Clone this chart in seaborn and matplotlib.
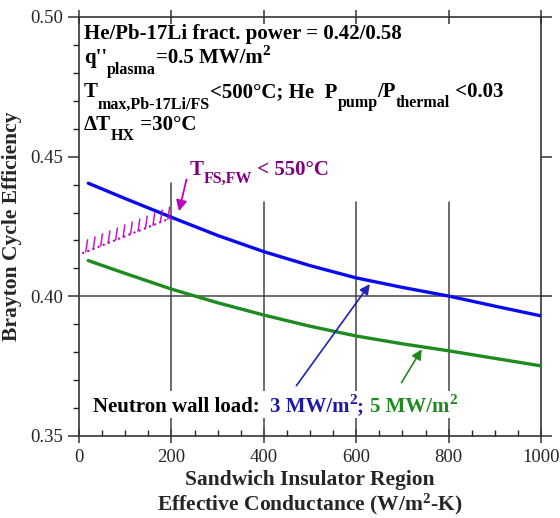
import matplotlib
matplotlib.use("Agg")
import matplotlib.pyplot as plt
import matplotlib.patheffects as pe
from matplotlib.patches import Rectangle
from matplotlib.ticker import MultipleLocator
import seaborn as sns
import pandas as pd

# valores
conductance = [20, 100, 200, 300, 400, 500, 600, 700, 800, 900, 1000]
eff_3mw = [0.4405, 0.4350, 0.4283, 0.4218, 0.4160, 0.4110, 0.4066, 0.4032, 0.4001, 0.3965, 0.3930]
eff_5mw = [0.4128, 0.4082, 0.4026, 0.3977, 0.3933, 0.3893, 0.3858, 0.3830, 0.3805, 0.3778, 0.3751]
limit_x = [7, 200]
limit_y = [0.4154, 0.4281]
xticks = [0, 200, 400, 600, 800, 1000]
yticks = [0.35, 0.40, 0.45, 0.50]

W, H = 560, 518
BLUE, GREEN, PURPLE = "#0a0af0", "#1f8a1f", "#800080"

sns.set_style("ticks")
plt.rcParams['font.family'] = ['Liberation Serif', 'DejaVu Serif']
plt.rcParams['mathtext.fontset'] = 'custom'
plt.rcParams['mathtext.rm'] = 'Liberation Serif:bold'
plt.rcParams['mathtext.it'] = 'Liberation Serif:bold'
plt.rcParams['mathtext.bf'] = 'Liberation Serif:bold'

df = pd.DataFrame({"k": conductance + conductance,
                   "eff": eff_3mw + eff_5mw,
                   "load": ["3"] * len(conductance) + ["5"] * len(conductance)})

fig = plt.figure(figsize=(W / 100, H / 100), dpi=100)
ax = fig.add_axes([79 / W, 1 - 436 / H, 462 / W, 419 / H])
renderer = fig.canvas.get_renderer()


def rich_text(x, y, pieces):
    # pieces: (texto, tamaño, desplazamiento vertical en px, color); x, y en px desde arriba
    for s, fs, dy, col in pieces:
        t = fig.text(x / W, 1 - (y + dy) / H, s, fontsize=fs, fontweight="bold", color=col,
                     va="baseline", zorder=6)
        x += t.get_window_extent(renderer).width


# lineas de referencia
ax.plot([200, 200], [0.35, 0.4406], color="#444444", lw=1.1, zorder=1)
for xv in [400, 600, 800]:
    ax.plot([xv, xv], [0.35, 0.4339], color="#444444", lw=1.1, zorder=1)
ax.axhline(0.40, color="#444444", lw=1.1, zorder=1)

sns.lineplot(data=df, x="k", y="eff", hue="load", palette={"3": BLUE, "5": GREEN},
             lw=2.4, legend=False, ax=ax, zorder=3)

# limite de temperatura (linea punteada con marcas)
ax.plot(limit_x, limit_y, color="#c000c0", lw=1.5, ls=":", zorder=4)
ax.plot(limit_x, limit_y, color="#c000c0", lw=1.1, alpha=0.9, zorder=4,
        path_effects=[pe.TickedStroke(angle=60, spacing=5.5, length=1.6)])

k = "black"
rich_text(84, 39, [("He/Pb-17Li fract. power = 0.42/0.58", 15, 0, k)])
rich_text(84, 63, [("q''", 15, 0, k), ("plasma", 11.5, 11, k), ("=0.5 MW/m", 15, 0, k), ("2", 11, -8, k)])
rich_text(84, 97, [("T", 15, 0, k), ("max,Pb-17Li/FS", 11.5, 12, k), ("<500°C; He  P", 15, 0, k),
                   ("pump", 11.5, 10, k), ("/P", 15, 0, k), ("thermal", 11.5, 10, k), (" <0.03", 15, 0, k)])
rich_text(84, 130, [("ΔT", 15, 0, k), ("HX", 11.5, 10, k), (" =30°C", 15, 0, k)])

rich_text(190, 175, [("T", 15, 0, PURPLE), ("FS,FW", 11.5, 8, PURPLE), (" < 550°C", 15, 0, PURPLE)])
ax.annotate("", xy=(215, 0.4295), xytext=(234, 0.4428),
            arrowprops=dict(arrowstyle="-|>", color="#c000c0", lw=1.3, mutation_scale=16), zorder=5)

# fondo blanco detras del texto de carga neutronica
ax.add_patch(Rectangle((24, 0.3564), 805, 0.0096, facecolor="white", edgecolor="none", zorder=2))
rich_text(93, 412, [("Neutron wall load:  ", 15, 0, k), ("3 MW/m", 15, 0, "#1a1aa8"), ("2", 11, -8, "#1a1aa8"),
                    ("; ", 15, 0, "#1a1aa8"), ("5 MW/m", 15, 0, GREEN), ("2", 11, -8, GREEN)])

ax.annotate("", xy=(633, 0.4052), xytext=(467, 0.3672),
            arrowprops=dict(arrowstyle="-|>", color="#2020c0", lw=1.2, mutation_scale=15), zorder=5)
ax.annotate("", xy=(745, 0.3819), xytext=(695, 0.3683),
            arrowprops=dict(arrowstyle="-|>", color=GREEN, lw=1.2, mutation_scale=15), zorder=5)

ax.set_xlim(0, 1000)
ax.set_ylim(0.35, 0.50)
ax.set_xticks(xticks)
ax.set_yticks(yticks)
ax.set_yticklabels([f"{v:.2f}" for v in yticks])
ax.xaxis.set_minor_locator(MultipleLocator(50))
ax.yaxis.set_minor_locator(MultipleLocator(0.01))
ax.tick_params(axis="both", which="major", labelsize=13.5, color="#333333", width=1.1)
ax.tick_params(axis="x", which="major", direction="inout", length=10, top=True, pad=4)
ax.tick_params(axis="x", which="minor", direction="in", length=4, width=1)
ax.tick_params(axis="y", which="major", direction="out", length=8, right=True)
ax.tick_params(axis="y", which="minor", direction="out", length=4, width=1)
for s in ax.spines.values():
    s.set_visible(True)
    s.set_color("#333333")
    s.set_linewidth(1.2)

ax.set_xlabel("Sandwich Insulator Region\nEffective Conductance (W/m$^{\\mathregular{2}}$-K)",
              fontsize=15.5, fontweight="bold", labelpad=3, linespacing=1.1)
ax.set_ylabel("Brayton Cycle Efficiency", fontsize=15.5, fontweight="bold", labelpad=6)

fig.savefig("out.png", dpi=100)
